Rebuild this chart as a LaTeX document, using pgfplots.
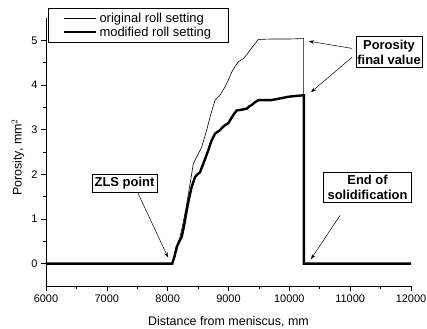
\documentclass[border=0pt]{standalone}
\usepackage{pgfplots}
\pgfplotsset{compat=1.18}
\usepackage{fontspec}
\setmainfont{Liberation Sans}
\usetikzlibrary{arrows.meta}
\begin{document}
\begin{tikzpicture}
\useasboundingbox (-46bp,-43bp) rectangle (381bp,286bp);
\begin{axis}[
  scale only axis,
  width=365bp, height=268bp,
  xmin=6000, xmax=12000, ymin=-0.5, ymax=5.5,
  axis x line*=bottom, axis y line*=left,
  axis line style={line width=0.6bp},
  xtick={6000,7000,...,12000},
  ytick={0,1,2,3,4,5},
  scaled ticks=false,
  minor x tick num=1, minor y tick num=1,
  tick align=outside,
  major tick length=5bp, minor tick length=3bp,
  tick style={line width=0.6bp, black},
  /pgf/number format/assume math mode=true,
  /pgf/number format/1000 sep={},
  tick label style={font=\fontsize{11}{13}\selectfont},
  label style={font=\fontsize{12.5}{15}\selectfont},
  xlabel={Distance from meniscus, mm},
  ylabel={Porosity, mm$^{2}$},
  xlabel style={at={(axis description cs:0.5,-0.149)}, anchor=base},
  ylabel style={at={(axis description cs:-0.077,0.48)}, anchor=center},
  clip=false,
  legend style={at={(axis description cs:0.005,1.037)}, anchor=north west,
    draw=black, line width=0.6bp, font=\fontsize{13}{15}\selectfont,
    inner xsep=15bp, inner ysep=2.5bp, row sep=-1bp},
  legend cell align=left,
  legend image code/.code={\draw[#1] (0bp,0bp) -- (32bp,0bp);},
]
\addplot[black, line width=0.6bp] coordinates {
(6000,0) (8080,0) (8093,0.07) (8150,0.3) (8203,0.6) (8260,0.95) (8313,1.34)
(8370,1.8) (8422,2.24) (8477,2.39) (8520,2.5) (8559,2.61) (8600,2.8)
(8641,2.99) (8700,3.3) (8778,3.66) (8860,3.77) (8943,3.96) (9000,4.12)
(9053,4.29) (9110,4.42) (9162,4.52) (9244,4.59) (9300,4.68) (9354,4.78)
(9420,4.9) (9491,5.02) (9700,5.03) (10000,5.03) (10235,5.04) (10235,0) (12000,0)
};
\addlegendentry{original roll setting\hspace{22bp}}
\addplot[black, line width=2.4bp] coordinates {
(6000,0) (8075,0) (8110,0.15) (8148,0.37) (8190,0.5) (8231,0.6) (8270,0.85)
(8313,1.19) (8350,1.45) (8395,1.72) (8450,1.94) (8490,2.0) (8532,2.05)
(8586,2.24) (8630,2.4) (8668,2.54) (8720,2.75) (8778,2.91) (8860,2.99)
(8900,3.05) (8943,3.10) (9000,3.15) (9025,3.21) (9080,3.33) (9135,3.43)
(9230,3.45) (9299,3.47) (9340,3.52) (9381,3.55) (9440,3.62) (9491,3.66)
(9700,3.66) (9847,3.70) (10000,3.74) (10150,3.76) (10240,3.77) (10240,0) (12000,0)
};
\addlegendentry{modified roll setting}
% annotations
\draw[line width=0.5bp, -{Stealth[length=5bp,width=3.5bp]}] (axis cs:7512,1.58) -- (axis cs:8006,0.14);
\draw[line width=0.5bp, -{Stealth[length=5bp,width=3.5bp]}] (axis cs:11030,4.82) -- (axis cs:10323,4.98);
\draw[line width=0.5bp, -{Stealth[length=5bp,width=3.5bp]}] (axis cs:11030,4.62) -- (axis cs:10356,3.84);
\draw[line width=0.5bp, -{Stealth[length=5bp,width=3.5bp]}] (axis cs:10833,1.08) -- (axis cs:10356,0.10);
\node[draw, fill=white, line width=0.6bp, font=\fontsize{13}{15}\selectfont\bfseries, inner xsep=2.5bp, inner ysep=3bp] at (axis cs:7290,1.80) {ZLS point};
\node[draw, fill=white, line width=0.6bp, font=\fontsize{13}{15}\selectfont\bfseries, align=center, inner xsep=1.5bp, inner ysep=3bp] at (axis cs:11639,4.74) {Porosity\\final value};
\node[draw, fill=white, line width=0.6bp, font=\fontsize{13}{15}\selectfont\bfseries, align=center, inner xsep=4bp, inner ysep=3bp] at (axis cs:11285,1.71) {End of\\solidification};
\end{axis}
\end{tikzpicture}
\end{document}
